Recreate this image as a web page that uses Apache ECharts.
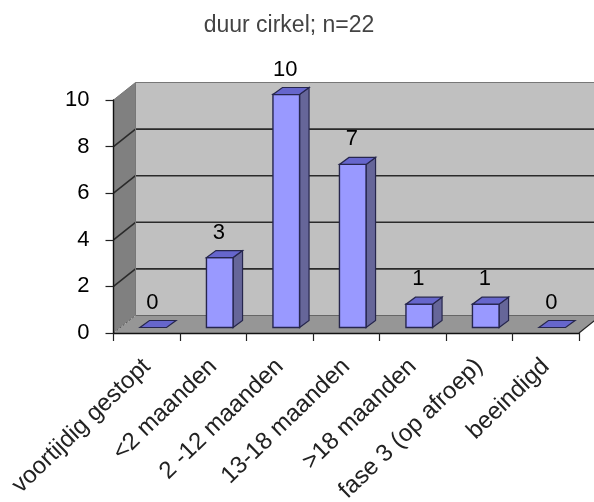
<!DOCTYPE html>
<html>
<head>
<meta charset="utf-8">
<style>html,body{margin:0;padding:0;background:#fff}#c{width:594px;height:502px}</style>
<script src="https://cdn.jsdelivr.net/npm/echarts@6/dist/echarts.min.js"></script>
</head>
<body>
<div id="c"></div>
<script>
const chartTitle = 'duur cirkel; n=22';
const categories = ['voortijdig gestopt', '<2 maanden', '2 -12 maanden', '13-18 maanden', '>18 maanden', 'fase 3 (op afroep)', 'beeindigd'];
const values = [0, 3, 10, 7, 1, 1, 0];
const yTicks = [0, 2, 4, 6, 8, 10];

const FONT = '"Liberation Sans", Arial, sans-serif';
const depthX = 22, depthY = 17.5;      // whole floor depth
const barFrontX = 6.5, barFrontY = 5.5; // bar front face inset
const barDepthX = 9.5, barDepthY = 7;  // bar depth

const chart = echarts.init(document.getElementById('c'), null, {renderer: 'canvas'});

function poly(points, fill, stroke, lw) {
  return {type: 'polygon', shape: {points}, style: {fill, stroke: stroke || 'none', lineWidth: lw || 0}};
}
function ln(a, b, stroke, lw, dash) {
  return {type: 'line', shape: {x1: a[0], y1: a[1], x2: b[0], y2: b[1]}, style: {stroke, lineWidth: lw, lineDash: dash || null}};
}

function renderWalls(params, api) {
  const cs = params.coordSys;
  const L = cs.x, R = cs.x + cs.width;
  const y0 = api.coord([categories[0], 0])[1];
  const yT = api.coord([categories[0], yTicks[yTicks.length - 1]])[1];
  const c = [];
  c.push(poly([[L + depthX, yT - depthY], [R + depthX, yT - depthY], [R + depthX, y0 - depthY], [L + depthX, y0 - depthY]], '#c0c0c0'));
  c.push(poly([[L, yT], [L + depthX, yT - depthY], [L + depthX, y0 - depthY], [L, y0]], '#808080'));
  c.push(poly([[L, y0], [L + depthX, y0 - depthY], [R + depthX, y0 - depthY], [R, y0]], '#969696'));
  yTicks.forEach(function (v) {
    const y = api.coord([categories[0], v])[1];
    if (v === 0) {
      c.push(ln([L, y], [L + depthX, y - depthY], '#555', 1, [2, 2]));
      c.push(ln([L + depthX, y - depthY], [R + depthX, y - depthY], '#666', 1));
    } else {
      const col = v === 10 ? '#777' : '#2a2a2a';
      c.push(ln([L, y], [L + depthX, y - depthY], col, v === 10 ? 1 : 1.6));
      c.push(ln([L + depthX, y - depthY], [R + depthX, y - depthY], col, v === 10 ? 1 : 1.6));
    }
  });
  c.push(ln([L + depthX, yT - depthY], [L + depthX, y0 - depthY], '#777', 1));
  c.push(ln([R, y0], [R + depthX, y0 - depthY], '#222', 1.2));
  return {type: 'group', children: c};
}

function renderBar(params, api) {
  const v = api.value(1);
  const cx = api.coord([api.value(0), 0]);
  const top = api.coord([api.value(0), v]);
  const w = api.size([1, 0])[0] * 0.4;
  const x1 = cx[0] - w / 2 + barFrontX, x2 = cx[0] + w / 2 + barFrontX;
  const yb = cx[1] - barFrontY, yt = top[1] - barFrontY;
  const dx = barDepthX, dy = barDepthY;
  const stroke = '#26264d';
  const c = [];
  if (v > 0) {
    c.push(poly([[x2, yt], [x2 + dx, yt - dy], [x2 + dx, yb - dy], [x2, yb]], '#666699', stroke, 1.2));
    c.push(poly([[x1, yt], [x2, yt], [x2, yb], [x1, yb]], '#9999ff', stroke, 1.4));
  }
  c.push(poly([[x1, yt], [x2, yt], [x2 + dx, yt - dy], [x1 + dx, yt - dy]], '#6666cc', stroke, 1.2));
  c.push({type: 'text', x: (x1 + x2) / 2 - 1, y: yt - dy - 18,
    style: {text: String(v), fill: '#000', font: '22px ' + FONT, textAlign: 'center', textVerticalAlign: 'middle'}});
  return {type: 'group', children: c};
}

chart.setOption({
  animation: false,
  backgroundColor: '#fff',
  title: {
    text: chartTitle, left: 284, top: 9, textAlign: 'center',
    textStyle: {fontFamily: FONT, fontSize: 23, fontWeight: 'normal', color: '#444'}
  },
  grid: {left: 113.5, right: 15, top: 100, bottom: 169, containLabel: false, outerBoundsMode: 'none'},
  xAxis: {
    type: 'category', data: categories, boundaryGap: true,
    axisLine: {show: true, lineStyle: {color: '#111', width: 1.4}},
    axisTick: {show: true, length: 8, lineStyle: {color: '#222', width: 1.2}, alignWithLabel: false, interval: 0},
    axisLabel: {interval: 0, rotate: 44, fontFamily: FONT, fontSize: 24, color: '#222', margin: 30},
    z: 5
  },
  yAxis: {
    type: 'value', min: 0, max: 10, interval: 2,
    axisLine: {show: true, lineStyle: {color: '#111', width: 1.4}},
    axisTick: {show: true, length: 8, lineStyle: {color: '#222', width: 1.2}},
    axisLabel: {fontFamily: FONT, fontSize: 22, color: '#000', margin: 24},
    splitLine: {show: false},
    z: 5
  },
  series: [
    {type: 'custom', name: 'walls', coordinateSystem: 'cartesian2d', renderItem: renderWalls, data: [[categories[0], 0]], z: 1, silent: true},
    {type: 'custom', name: 'bars', coordinateSystem: 'cartesian2d', renderItem: renderBar,
      data: categories.map(function (c, i) { return [c, values[i]]; }), z: 3, encode: {x: 0, y: 1}}
  ]
});
</script>
</body>
</html>
